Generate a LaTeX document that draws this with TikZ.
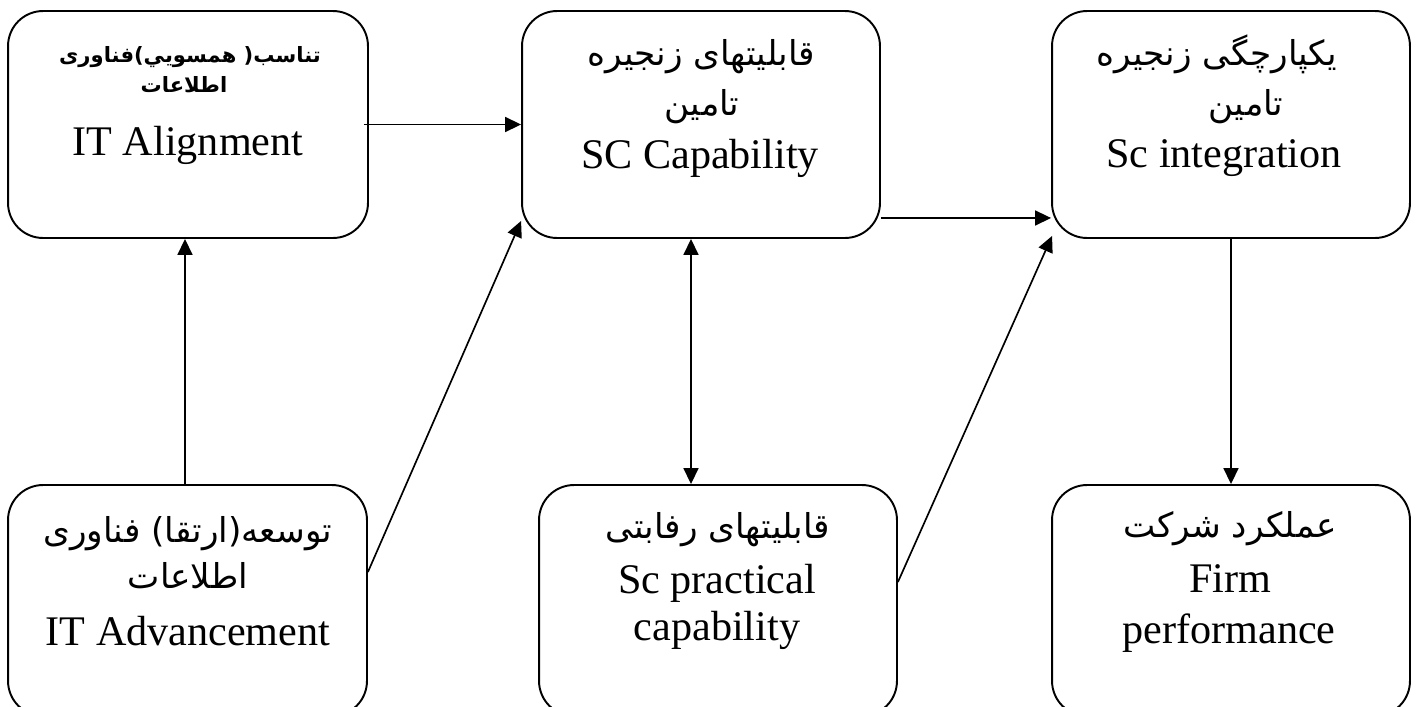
\documentclass[tikz,border=0pt]{standalone}
\usepackage{fontspec}
\setmainfont{Liberation Serif}
\newfontfamily\arabicfont[Script=Arabic]{DejaVu Sans}
\TeXXeTstate=1
\usetikzlibrary{arrows.meta}
\begin{document}
\begin{tikzpicture}[x=0.02cm,y=-0.02cm,
  box/.style={draw, line width=1.1pt, rounded corners=0.7cm, inner sep=0pt},
  en/.style={font=\fontsize{24}{28}\selectfont, anchor=base, inner sep=0pt},
  fa/.style={font=\fontsize{19.5}{23}\selectfont\arabicfont, anchor=base, inner sep=0pt},
  fab/.style={font=\fontsize{12}{14}\selectfont\arabicfont\bfseries, anchor=base, inner sep=0pt},
  arr/.style={line width=0.95pt, -{Triangle[length=0.32cm,width=0.3cm]}},
  darr/.style={line width=0.95pt, {Triangle[length=0.32cm,width=0.3cm]}-{Triangle[length=0.32cm,width=0.3cm]}}]
\useasboundingbox (0,0) rectangle (1418,707);
\fill[white] (0,0) rectangle (1418,707);
% boxes
\node[box, minimum width=7.2cm,  minimum height=4.54cm] (b1) at (188,124.5) {};
\node[box, minimum width=7.16cm, minimum height=4.54cm] (b2) at (701,124.5) {};
\node[box, minimum width=7.16cm, minimum height=4.54cm] (b3) at (1231,124.5) {};
\node[box, minimum width=7.18cm, minimum height=4.62cm] (b4) at (187.5,600.5) {};
\node[box, minimum width=7.16cm, minimum height=4.62cm] (b5) at (718,600.5) {};
\node[box, minimum width=7.16cm, minimum height=4.62cm] (b6) at (1231,600.5) {};
% texts
\node[fab] (t1a) at (190,62) {\beginR تناسب( همسويي)فناوری\endR};
\node[fab] (t1b) at (184,92) {\beginR اطلاعات\endR};
\node[en]  (t1c) at (188,155) {IT Alignment};
\node[fa]  (t2a) at (701,65) {\beginR قابليتهای زنجيره\endR};
\node[fa]  (t2b) at (702,115) {\beginR تامين\endR};
\node[en]  (t2c) at (700,168) {SC Capability};
\node[fa]  (t3a) at (1217,65) {\beginR يكپارچگی زنجيره\endR};
\node[fa]  (t3b) at (1246,115) {\beginR تامين\endR};
\node[en]  (t3c) at (1224,167) {Sc integration};
\node[fa]  (t4a) at (188,542) {\beginR توسعه(ارتقا) فناوری\endR};
\node[fa]  (t4b) at (188,588) {\beginR اطلاعات\endR};
\node[en]  (t4c) at (188,645) {IT Advancement};
\node[fa]  (t5a) at (718,538) {\beginR قابليتهای رفابتی\endR};
\node[en]  (t5b) at (717,593) {Sc practical};
\node[en]  (t5c) at (717,640) {capability};
\node[fa]  (t6a) at (1230,537) {\beginR عملكرد شركت\endR};
\node[en]  (t6b) at (1230,592) {Firm};
\node[en]  (t6c) at (1229,643) {performance};
% connectors
\coordinate (dx) at (691,0);
\coordinate (lx) at (185,0);
\draw[arr] ([xshift=-0.1cm]b1.east) -- (b2.west);
\draw[arr] ([yshift=-1.87cm]b2.east) -- ([yshift=-1.87cm]b3.west);
\draw[arr] (b4.north -| lx) -- (b1.south -| lx);
\draw[darr] (b2.south -| dx) -- (b5.north -| dx);
\draw[arr] (b3.south) -- (b6.north);
\draw[arr] ([yshift=0.57cm]b4.east) -- ([yshift=0.36cm]b2.south west);
\draw[arr] ([yshift=0.37cm]b5.east) -- ([yshift=0.06cm,xshift=0.02cm]b3.south west);
\end{tikzpicture}
\end{document}
